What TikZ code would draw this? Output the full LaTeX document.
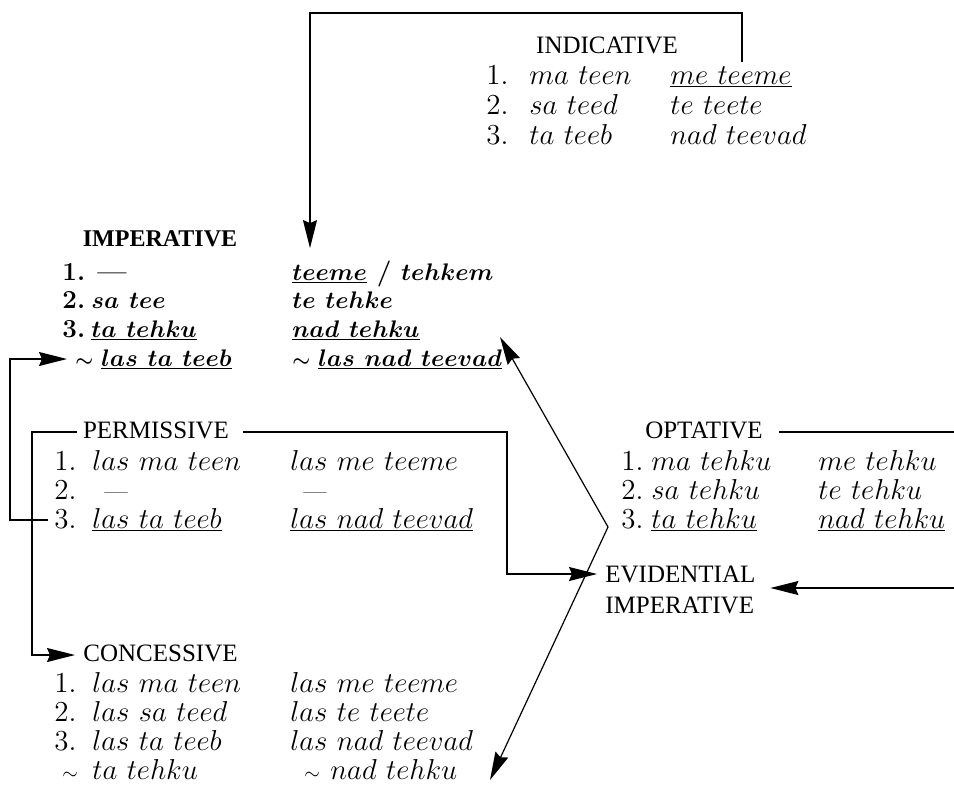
\documentclass[tikz,border=0pt]{standalone}
\usepackage{fontspec}
\newfontfamily\hdrserif{Liberation Serif}
\usetikzlibrary{arrows.meta}
\newcommand\rowf{\fontsize{14.5}{17}\selectfont}
\newcommand\browf{\fontsize{13}{16}\selectfont\bfseries\boldmath}
\newcommand\hdrf{\hdrserif\fontsize{12.5}{14}\selectfont}
\newcommand\bhdrf{\hdrserif\fontsize{12}{14}\selectfont\bfseries}
\newcommand\w[1]{$#1$}
\newcommand\nb[2]{\makebox[#1][l]{#2}}
\newcommand\smtil{{\fontsize{10}{10}\selectfont$\sim$}}
\newcommand\dsh{{\fontsize{12}{12}\selectfont\textemdash}}
\tikzset{
  rowtxt/.style={anchor=base west, inner sep=0pt, font=\rowf},
  browtxt/.style={anchor=base west, inner sep=0pt, font=\browf},
  hdr/.style={anchor=base, inner xsep=3pt, inner ysep=0pt, font=\hdrf},
  bhdr/.style={anchor=base, inner sep=0pt, font=\bhdrf},
  conn/.style={line width=0.6pt},
  arr/.style={conn, -{Stealth[length=14pt,width=7pt,inset=1.5pt]}},
}
\begin{document}
\begin{tikzpicture}[x=0.5pt,y=-0.5pt]
\useasboundingbox (0,0) rectangle (954,789);
% ---------------- INDICATIVE
\node[hdr] (indh) at (607,53) {INDICATIVE};
\node[rowtxt] (ind1a) at (486,84) {\nb{21.5pt}{1.}\w{ma\ teen}};
\node[rowtxt] (ind1b) at (670,84) {\underline{\w{me\ teeme}}};
\node[rowtxt] (ind2a) at (486,114) {\nb{21.5pt}{2.}\w{sa\ teed}};
\node[rowtxt] (ind2b) at (670,114) {\w{te\ teete}};
\node[rowtxt] (ind3a) at (486,144) {\nb{21.5pt}{3.}\w{ta\ teeb}};
\node[rowtxt] (ind3b) at (670,144) {\w{nad\ teevad}};
% ---------------- IMPERATIVE
\node[bhdr] (imph) at (160,246) {IMPERATIVE};
\node[browtxt] (imp1a) at (62,280) {\nb{17.5pt}{1.}\textemdash};
\node[browtxt] (imp1b) at (292,280) {\underline{\w{teeme}} / \w{tehkem}};
\node[browtxt] (imp2a) at (62,308) {\nb{14.5pt}{2.}\w{sa\ tee}};
\node[browtxt] (imp2b) at (292,308) {\w{te\ tehke}};
\node[browtxt] (imp3a) at (62,337) {\nb{14.5pt}{3.}\underline{\w{ta\ tehku}}};
\node[browtxt] (imp3b) at (292,337) {\underline{\w{nad\ tehku}}};
\node[browtxt] (imp4a) at (75,366) {\nb{13pt}{\smtil}\underline{\w{las\ ta\ teeb}}};
\node[browtxt] (imp4b) at (292,366) {\nb{13pt}{\smtil}\underline{\w{las\ nad\ teevad}}};
% ---------------- PERMISSIVE
\node[hdr] (permh) at (156,438) {PERMISSIVE};
\node[rowtxt] (perm1a) at (54,470) {\nb{19pt}{1.}\w{las\ ma\ teen}};
\node[rowtxt] (perm1b) at (290,470) {\w{las\ me\ teeme}};
\node[rowtxt] (perm2a) at (54,499) {\nb{25pt}{2.}\dsh};
\node[rowtxt] (perm2b) at (303,499) {\dsh};
\node[rowtxt] (perm3a) at (54,528) {\nb{19pt}{3.}\underline{\w{las\ ta\ teeb}}};
\node[rowtxt] (perm3b) at (290,528) {\underline{\w{las\ nad\ teevad}}};
% ---------------- OPTATIVE
\node[hdr] (opth) at (704,438) {OPTATIVE};
\node[rowtxt] (opt1a) at (621,470) {\nb{15pt}{1.}\w{ma\ tehku}};
\node[rowtxt] (opt1b) at (818,470) {\w{me\ tehku}};
\node[rowtxt] (opt2a) at (621,499) {\nb{15pt}{2.}\w{sa\ tehku}};
\node[rowtxt] (opt2b) at (818,499) {\w{te\ tehku}};
\node[rowtxt] (opt3a) at (621,528) {\nb{15pt}{3.}\underline{\w{ta\ tehku}}};
\node[rowtxt] (opt3b) at (818,528) {\underline{\w{nad\ tehku}}};
% ---------------- EVIDENTIAL IMPERATIVE
\node[hdr, anchor=base west] (evid) at (599,582) {EVIDENTIAL};
\node[hdr, anchor=base west] (evid2) at (599,613) {IMPERATIVE};
% ---------------- CONCESSIVE
\node[hdr, anchor=base west] (conh) at (77,661) {CONCESSIVE};
\node[rowtxt] (con1a) at (54,692) {\nb{19pt}{1.}\w{las\ ma\ teen}};
\node[rowtxt] (con1b) at (290,692) {\w{las\ me\ teeme}};
\node[rowtxt] (con2a) at (54,721) {\nb{19pt}{2.}\w{las\ sa\ teed}};
\node[rowtxt] (con2b) at (290,721) {\w{las\ te\ teete}};
\node[rowtxt] (con3a) at (54,750) {\nb{19pt}{3.}\w{las\ ta\ teeb}};
\node[rowtxt] (con3b) at (290,750) {\w{las\ nad\ teevad}};
\node[rowtxt] (con4a) at (62,779) {\nb{15pt}{\smtil}\w{ta\ tehku}};
\node[rowtxt] (con4b) at (304,779) {\nb{13pt}{\smtil}\w{nad\ tehku}};
% ---------------- connectors
\coordinate (t1) at (742,13);
\coordinate (t2) at (310,13);
\draw[arr] ([yshift=2pt]ind1b.north -| t1) -- (t1) -- (t2) -- ([yshift=6pt]imp1b.north -| t2);
\coordinate (a1) at (10,520);
\coordinate (a2) at (10,359);
\draw[arr] ([xshift=-3pt]perm3a.west |- a1) -- (a1) -- (a2) -- ([xshift=-4pt]imp4a.west |- a2);
\coordinate (p0) at (32,432);
\coordinate (p1) at (32,655);
\draw[arr] (permh.west |- p0) -- (p0) -- (p1) -- ([xshift=-1pt]conh.west |- p1);
\coordinate (p2) at (507,432);
\coordinate (p3) at (507,574);
\draw[arr] ([xshift=4pt]permh.east |- p0) -- (p2) -- (p3) -- ([xshift=-1pt]evid.west |- p3);
\coordinate (o1) at (954,432);
\draw[conn] ([xshift=5pt]opth.east |- o1) -- (o1);
\coordinate (o2) at (954,588);
\draw[arr] (o2) -- ([xshift=5pt]evid2.east |- o2);
\coordinate (z0) at (608,527);
\coordinate (z1) at (500,337);
\coordinate (z2) at (490,780);
\draw[arr] (z0) -- (z1);
\draw[arr] (z0) -- (z2);
\end{tikzpicture}
\end{document}
